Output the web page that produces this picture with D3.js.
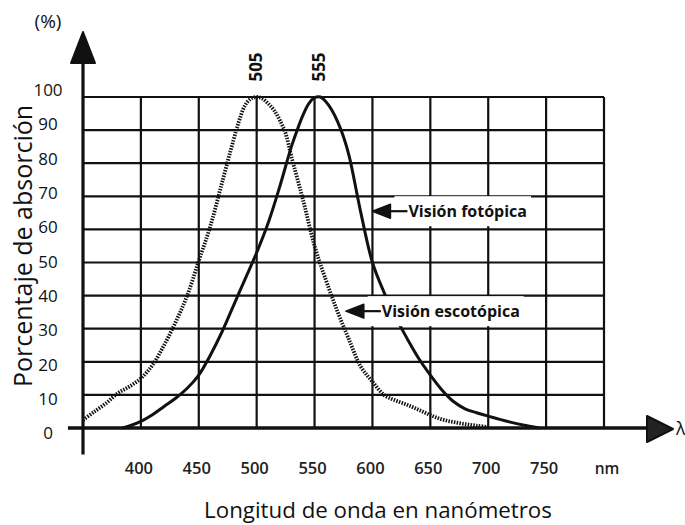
<!DOCTYPE html>
<html>
<head>
<meta charset="utf-8">
<script src="https://cdn.jsdelivr.net/npm/d3@7"></script>
<style>
  html, body { margin: 0; padding: 0; background: #fff; }
  svg { display: block; }
  text { font-family: "Open Sans", sans-serif; fill: #111; }
</style>
</head>
<body>
<svg id="chart" width="685" height="525"></svg>
<script>
// ---- data ----
const xTicks = [400, 450, 500, 550, 600, 650, 700, 750];
const xGrid = [400, 450, 500, 550, 600, 650, 700, 750, 800];
const yTicks = [0, 10, 20, 30, 40, 50, 60, 70, 80, 90, 100];
const unitLabel = "nm";

// Visión fotópica (solid)
const photopicNm = [384, 390, 400, 410, 420, 430, 440, 450, 460, 470, 480, 490, 500, 510, 520, 530, 535, 540, 545, 550, 555, 560, 565, 570, 575, 580, 590, 600, 610, 620, 630, 640, 650, 660, 670, 680, 690, 700, 710, 720, 730, 744];
const photopicVal = [0, 0.6, 2, 4, 6.5, 9, 12, 16, 22, 29, 37, 45, 53, 62, 73, 85, 90, 94.5, 98, 99.8, 100, 98.5, 96, 92.5, 88, 82, 65, 50, 41, 33.5, 27, 21, 16, 11.5, 8, 5.8, 4.6, 3.6, 2.6, 1.7, 0.9, 0];

// Visión escotópica (dotted)
const scotopicNm = [350, 360, 370, 380, 390, 400, 410, 420, 430, 440, 450, 460, 470, 480, 485, 490, 495, 500, 505, 510, 515, 520, 525, 530, 540, 550, 560, 570, 580, 590, 600, 610, 620, 630, 640, 650, 660, 670, 680, 690, 700];
const scotopicVal = [2.4, 5, 7.5, 10.5, 12.5, 15, 19, 25, 32, 40, 50.5, 61, 74, 87, 93, 97.5, 99.5, 100, 99.5, 98, 96, 93, 89, 82, 69, 55, 44.5, 35, 26.5, 18.5, 14, 10, 8.3, 7, 5.5, 3.9, 2.6, 1.8, 1.2, 0.7, 0.3];

const peakLabels = ["505", "555"];
const annotations = [
  { text: "Visión fotópica", nm: 600, v: 65.5 },
  { text: "Visión escotópica", nm: 577, v: 35.3 }
];

// ---- layout ----
const svg = d3.select("#chart");
const x = d3.scaleLinear().domain([350, 800]).range([83, 604]);
const y = d3.scaleLinear().domain([0, 100]).range([428, 97]);
const yLabelPos = d3.scaleLinear().domain([0, 100]).range([433, 90]);

const photopic = photopicNm.map((d, i) => [d, photopicVal[i]]);
const scotopic = scotopicNm.map((d, i) => [d, scotopicVal[i]]);

// grid
const g = svg.append("g");
g.selectAll("line.h").data(yTicks.filter(d => d > 0)).join("line")
  .attr("x1", x(350)).attr("x2", x(800))
  .attr("y1", d => y(d)).attr("y2", d => y(d))
  .attr("stroke", "#111").attr("stroke-width", 2.2);
g.selectAll("line.v").data(xGrid).join("line")
  .attr("x1", d => x(d)).attr("x2", d => x(d))
  .attr("y1", y(0)).attr("y2", y(100))
  .attr("stroke", "#111").attr("stroke-width", 2.2);

// curves
const line = d3.line().x(d => x(d[0])).y(d => y(d[1])).curve(d3.curveCatmullRom.alpha(0.5));
svg.append("path").datum(scotopic).attr("d", line)
  .attr("fill", "none").attr("stroke", "#111").attr("stroke-width", 3.8)
  .attr("stroke-dasharray", "1.5 1.3");
svg.append("path").datum(photopic).attr("d", line)
  .attr("fill", "none").attr("stroke", "#111").attr("stroke-width", 3);

// axes
svg.append("line").attr("x1", x(350)).attr("x2", x(350))
  .attr("y1", y(-8)).attr("y2", 50)
  .attr("stroke", "#111").attr("stroke-width", 3.2);
svg.append("line").attr("x1", x(337)).attr("x2", 655)
  .attr("y1", y(0)).attr("y2", y(0))
  .attr("stroke", "#111").attr("stroke-width", 3.4);
// arrowheads
svg.append("path")
  .attr("d", `M${x(350)},32 L${x(350) + 12},63 L${x(350) - 12},63 Z`)
  .attr("fill", "#111").attr("stroke", "#111").attr("stroke-width", 2).attr("stroke-linejoin", "round");
svg.append("path")
  .attr("d", `M673,${y(0) + 1} L647,${y(0) - 12} L647,${y(0) + 14} Z`)
  .attr("fill", "#222").attr("stroke", "#111").attr("stroke-width", 2).attr("stroke-linejoin", "round");
svg.append("text").attr("x", 676).attr("y", y(0) + 7)
  .style("font-size", "18px").text("λ");

// y tick labels
svg.selectAll("text.yt").data(yTicks).join("text")
  .attr("x", 48).attr("y", d => yLabelPos(d)).attr("dy", "0.36em")
  .attr("text-anchor", "middle").style("font-size", "17px")
  .text(d => d);
svg.append("text").attr("x", 48).attr("y", 28)
  .attr("text-anchor", "middle").style("font-size", "19px").text("(%)");

// x tick labels
svg.selectAll("text.xt").data(xTicks).join("text")
  .attr("x", d => x(d) - 2).attr("y", 474)
  .attr("text-anchor", "middle").style("font-size", "16.5px").style("font-weight", 600)
  .style("fill", "#222")
  .text(d => d);
svg.append("text").attr("x", x(800) + 3).attr("y", 474)
  .attr("text-anchor", "middle").style("font-size", "15.5px").style("font-weight", 600)
  .style("fill", "#222").text(unitLabel);

// titles
svg.append("text").attr("transform", "translate(32,246) rotate(-90)")
  .attr("text-anchor", "middle").style("font-size", "25px")
  .text("Porcentaje de absorción");
svg.append("text").attr("x", 378).attr("y", 518)
  .attr("text-anchor", "middle").style("font-size", "22.3px")
  .text("Longitud de onda en nanómetros");

// peak labels
const peaks = [scotopic, photopic].map(s => s.reduce((a, b) => (b[1] > a[1] ? b : a)));
peaks.forEach((p, i) => {
  svg.append("text")
    .attr("transform", `translate(${x(p[0]) + (i === 0 ? -1 : -1)},67) rotate(-90)`)
    .attr("text-anchor", "middle").attr("dy", "0.36em")
    .style("font-size", "17px").style("font-weight", 700)
    .text(peakLabels[i]);
});

// annotations
annotations.forEach(a => {
  const tx = x(a.nm), ty = y(a.v);
  const label = svg.append("g");
  const t = label.append("text").attr("x", tx + 36).attr("y", ty).attr("dy", "0.36em")
    .style("font-size", "16px").style("font-weight", 700).text(a.text);
  const bb = t.node().getBBox();
  label.insert("rect", "text").attr("x", tx + 22).attr("y", ty - 15)
    .attr("width", bb.x + bb.width + 4 - (tx + 22)).attr("height", 30).attr("fill", "#fff");
  label.append("path")
    .attr("d", `M${tx},${ty} L${tx + 18},${ty - 7} L${tx + 18},${ty + 7} Z`)
    .attr("fill", "#111").attr("stroke", "#111").attr("stroke-width", 1.5).attr("stroke-linejoin", "round");
  label.append("line").attr("x1", tx + 16).attr("x2", tx + 35)
    .attr("y1", ty).attr("y2", ty).attr("stroke", "#111").attr("stroke-width", 2.2);
});
</script>
</body>
</html>
